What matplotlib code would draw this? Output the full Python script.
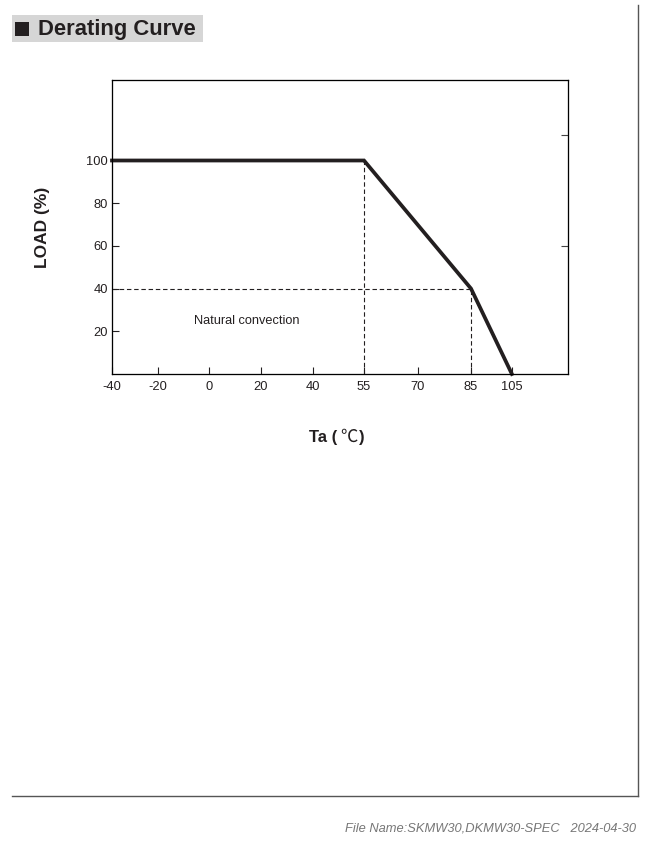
import matplotlib
matplotlib.use('Agg')
from matplotlib import pyplot as plt
from matplotlib.patches import Rectangle
import numpy as np

# data
temps = [-40, 55, 85, 105]
load = [100, 100, 40, 0]
tick_temps = [-40, -20, 0, 20, 40, 55, 70, 85, 105]
tick_labels = ['-40', '-20', '0', '20', '40', '55', '70', '85', '105']
y_ticks = [20, 40, 60, 80, 100]
right_ticks = [60, 112]
note = 'Natural convection'

# the x axis is not linear: where each tick sits on the axis
tick_pos = [0, 0.885, 1.865, 2.865, 3.865, 4.846, 5.885, 6.904, 7.69]

def tpos(t):
    return np.interp(t, tick_temps, tick_pos)

plt.rcParams['font.family'] = ['Liberation Sans', 'DejaVu Sans']
ink = '#231f20'

fig = plt.figure(figsize=(6.47, 8.47), dpi=100)
ax = fig.add_axes([112/647, 1-374/847, 456/647, 294/847])

# dashed guide lines
dash = (0, (4, 2.5))
ax.plot([tpos(55), tpos(55)], [0, 100], color=ink, lw=0.8, ls=dash)
ax.plot([tpos(85), tpos(85)], [0, 40], color=ink, lw=0.8, ls=dash)
ax.plot([tpos(-40), tpos(85)], [40, 40], color=ink, lw=0.8, ls=dash)

# the curve
ax.plot(tpos(temps), load, color=ink, lw=2.7, solid_joinstyle='miter', clip_on=False, zorder=5)

ax.text(tpos(15) - 0.03, 25, note, fontsize=9.2, color=ink, ha='center', va='center')

ax.set_xlim(0, 456/52)
ax.set_ylim(0, 294/2.135)
ax.set_xticks(tick_pos)
ax.set_xticklabels(tick_labels)
ax.set_yticks(y_ticks)
ax.tick_params(axis='both', direction='in', length=5, width=0.8, labelsize=9.3, colors=ink, pad=3)
ax.tick_params(axis='x', pad=5)
for s in ax.spines.values():
    s.set_color('#444444')
    s.set_linewidth(0.9)

# small ticks on the right spine
ax2 = ax.twinx()
ax2.set_ylim(ax.get_ylim())
ax2.set_yticks(right_ticks)
ax2.set_yticklabels([])
ax2.tick_params(axis='y', direction='in', length=5, width=0.8, colors='#444444')

fig.text(42/647, 1-227/847, 'LOAD (%)', rotation=90, fontsize=12.5, fontweight='bold',
         ha='center', va='center', color=ink)
# x label: bold text with a light degree sign
fig.text(337/647, 1-437/847, 'Ta (', fontsize=12, fontweight='bold',
         ha='right', va='center', color=ink)
fig.text(349/647, 1-437/847, '\u2103', fontsize=12.5, fontweight='light',
         ha='center', va='center', color=ink, family=['Noto Sans CJK SC', 'DejaVu Sans'])
fig.text(359/647, 1-437/847, ')', fontsize=12, fontweight='bold',
         ha='left', va='center', color=ink)

# title block
fig.patches.append(Rectangle((12/647, 1-42/847), 191/647, 27/847, transform=fig.transFigure,
                             facecolor='#d6d6d6', edgecolor='none'))
fig.patches.append(Rectangle((15/647, 1-36/847), 14/647, 14/847, transform=fig.transFigure,
                             facecolor=ink, edgecolor='none'))
fig.text(38/647, 1-29/847, 'Derating Curve', fontsize=15.8, fontweight='bold', color=ink,
         ha='left', va='center')

# page frame
fig.add_artist(plt.Line2D([638/647, 638/647], [1-5/847, 1-796/847], transform=fig.transFigure,
                          color='#555555', lw=1))
fig.add_artist(plt.Line2D([12/647, 638/647], [1-796/847, 1-796/847], transform=fig.transFigure,
                          color='#555555', lw=1))

fig.text(636/647, 1-828/847, 'File Name:SKMW30,DKMW30-SPEC   2024-04-30', fontsize=9.3,
         style='italic', color='#777777', ha='right', va='center')

plt.savefig('out.png', dpi=100)
